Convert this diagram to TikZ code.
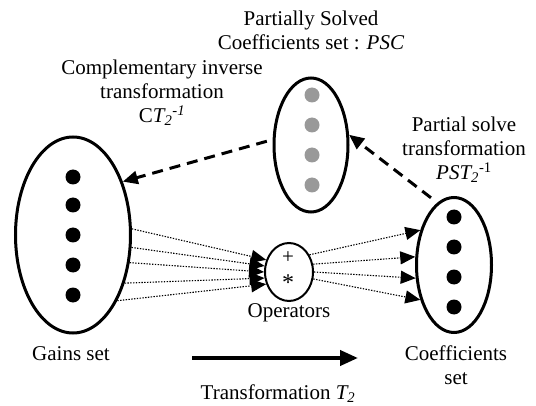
\documentclass[tikz,border=0pt]{standalone}
\usepackage{fontspec}
\setmainfont{Liberation Serif}
\usetikzlibrary{shapes.geometric,arrows.meta}

\begin{document}
\begin{tikzpicture}[x=1pt, y=1pt,
  font=\fontsize{21}{24}\selectfont,
  >={Triangle[length=15pt,width=13pt]},
  set/.style={draw, ellipse, line width=3pt, inner sep=0pt},
  elem/.style={circle, fill, inner sep=0pt, minimum size=15pt},
  pelem/.style={elem, fill=black!40},
  dots/.style={->, dash pattern=on 1.4pt off 1.4pt, line width=1.1pt},
  dashes/.style={->, dash pattern=on 11pt off 7pt, line width=3pt},
  lbl/.style={align=center, inner sep=0pt}]

\useasboundingbox (0,0) rectangle (536,405);

% Define nodes
\path (73,170) node[set, minimum width=115pt, minimum height=196pt] (gains) {}
(gains) +(0,58) node[elem] (g1) {}
(gains) +(0,30) node[elem] (g2) {}
(gains) +(0,0) node[elem] (g3) {}
(gains) +(0,-30) node[elem] (g4) {}
(gains) +(0,-60) node[elem] (g5) {}
(311,260) node[set, minimum width=74pt, minimum height=134pt] (psc) {}
(psc) +(1,50) node[pelem] (p1) {}
(psc) +(1,20) node[pelem] (p2) {}
(psc) +(1,-10) node[pelem] (p3) {}
(psc) +(1,-40) node[pelem] (p4) {}
(454,140) node[set, minimum width=75pt, minimum height=135pt] (coef) {}
(coef) +(0,48) node[elem] (c1) {}
(coef) +(0,18) node[elem] (c2) {}
(coef) +(0,-12) node[elem] (c3) {}
(coef) +(0,-42) node[elem] (c4) {}
(289,133) node[set, line width=2pt, minimum width=48pt, minimum height=58pt] (ops) {}
(ops) +(-1,14) node[inner sep=0pt] (plus) {+}
(ops) +(-1,-11) node[inner sep=0pt, font=\fontsize{24}{24}\selectfont] (star) {*}
(192,47) coordinate (t0)
(358,47) coordinate (t1)
;

% Labels
\node[lbl] (psc-lbl) at (311,375) {Partially Solved\\Coefficients set : \textit{PSC}};
\node[lbl] (ct-lbl) at (162,312)
{Complementary inverse\\transformation\\C\textit{T\textsubscript{2}\textsuperscript{-1}}};
\node[lbl] (pst-lbl) at (464,255)
{Partial solve\\transformation\\\textit{PST\textsubscript{2}}\textsuperscript{-1}};
\node[lbl] (coef-lbl) at (456,40) {Coefficients\\set};
\node[lbl, anchor=base] (gains-lbl) at (71,45) {Gains set};
\node[lbl, anchor=base] (ops-lbl) at (289,88) {Operators};
\node[lbl, anchor=base] (t-lbl) at (278,6) {Transformation \textit{T\textsubscript{2}}};

% Dotted links
\draw[dots] (gains.6) -- (ops.152);
\draw[dots] (gains.-12) -- (ops.166);
\draw[dots] (gains.-26) -- (ops.180);
\draw[dots] (gains.-43) -- (ops.194);
\draw[dots] (gains.-56) -- (ops.208);
\draw[dots] (ops.40) -- (coef.134);
\draw[dots] (ops.18) -- (coef.168);
\draw[dots] (ops.0) -- (coef.199);
\draw[dots] (ops.-16) -- (coef.226);

% Transformations
\draw[dashes, shorten <=6pt] (psc.172) -- (gains.47);
\draw[dashes, shorten <=8pt] (coef.105) -- (psc.15);
\draw[-{Triangle[length=18pt,width=15pt]}, line width=4pt] (t0) -- (t1);

\end{tikzpicture}
\end{document}
